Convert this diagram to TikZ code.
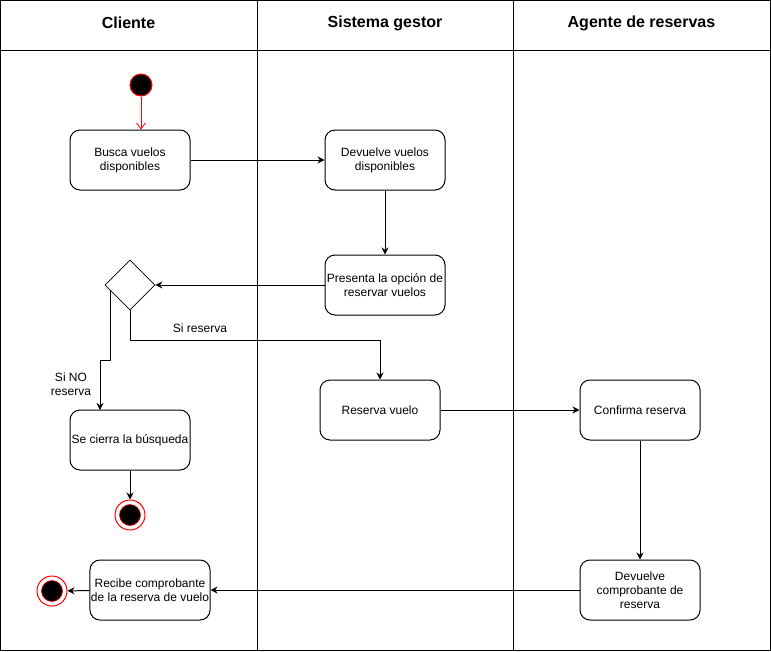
\documentclass[tikz,border=0pt]{standalone}
\usepackage{fontspec}
\setmainfont{Liberation Sans}
\usetikzlibrary{arrows.meta,shapes.geometric}
\begin{document}
\begin{tikzpicture}[x=1pt,y=-1pt,
  act/.style={draw,rounded corners=10pt,minimum width=120pt,minimum height=60pt,inner sep=1pt,align=center,font=\fontsize{12}{14}\selectfont,line width=1pt},
  hdr/.style={font=\fontsize{16}{19}\selectfont\bfseries},
  lbl/.style={font=\fontsize{12}{14}\selectfont,align=center},
  flow/.style={line width=1pt,-{Stealth[length=7pt,width=7pt]}},
  startnode/.style={circle,fill=black,draw=red,line width=1pt,minimum size=22pt,inner sep=0pt},
  endnode/.style={circle,fill=white,draw=red,line width=1pt,minimum size=30pt,inner sep=0pt},
  lane/.style={line width=1pt}
]
\useasboundingbox (0,0) rectangle (771,651);
% pool
\draw[lane] (0.5,0.5) rectangle (770.5,650.5);
\draw[lane] (0.5,50) -- (770.5,50);
\draw[lane] (257,0.5) -- (257,650.5);
\draw[lane] (513,0.5) -- (513,650.5);
\node[hdr] (h1) at (128.5,23) {Cliente};
\node[hdr] (h2) at (385,23) {Sistema gestor};
\node[hdr] (h3) at (641.5,23) {Agente de reservas};

% nodes
\node[startnode] (start) at (141,85) {};
\node[act] (busca) at (130,160) {Busca vuelos\\disponibles};
\node[act] (devuelve) at (385,160) {Devuelve vuelos\\disponibles};
\node[act] (presenta) at (385,285) {Presenta la opción de\\reservar vuelos};
\node[draw,diamond,minimum width=50pt,minimum height=50pt,inner sep=0pt,line width=0.8pt] (dec) at (130,285) {};
\node[act] (reserva) at (380,410) {Reserva vuelo};
\node[act] (confirma) at (640,410) {Confirma reserva};
\node[act] (cierra) at (130,440) {Se cierra la búsqueda};
\node[endnode] (end1) at (130,515) {};
\node[circle,fill=black,draw=red,line width=0.6pt,minimum size=21pt,inner sep=0pt] (end1in) at (end1) {};
\node[act] (devcomp) at (640,590) {Devuelve\\comprobante de\\reserva};
\node[act] (recibe) at (150,590) {Recibe comprobante\\de la reserva de vuelo};
\node[endnode] (end2) at (52,591) {};
\node[circle,fill=black,draw=red,line width=0.6pt,minimum size=21pt,inner sep=0pt] (end2in) at (end2) {};

% connectors
\draw[red,line width=0.8pt,-{Straight Barb[length=6pt,width=9pt]}] (start) -- (start |- busca.north);
\draw[flow] (busca) -- (devuelve);
\draw[flow] (devuelve) -- (presenta);
\draw[flow] (presenta) -- (dec.east);
\coordinate (dno) at (110,290);
\coordinate (nin) at (100,410);
\draw[flow] (dec.south) -- (130,340) -- (380,340) -- (reserva.north);
\draw[flow] (dno) -- (110,360) -- (100,360) -- (nin);
\draw[flow] (reserva) -- (confirma);
\draw[flow] (confirma) -- (devcomp);
\draw[flow] (devcomp) -- (recibe);
\draw[flow] (recibe) -- (end2);
\draw[flow] (cierra) -- (end1);

% labels
\node[lbl] (lsi) at (200,328) {Si reserva};
\node[lbl] (lno) at (71,384) {Si NO\\reserva};
\end{tikzpicture}
\end{document}
